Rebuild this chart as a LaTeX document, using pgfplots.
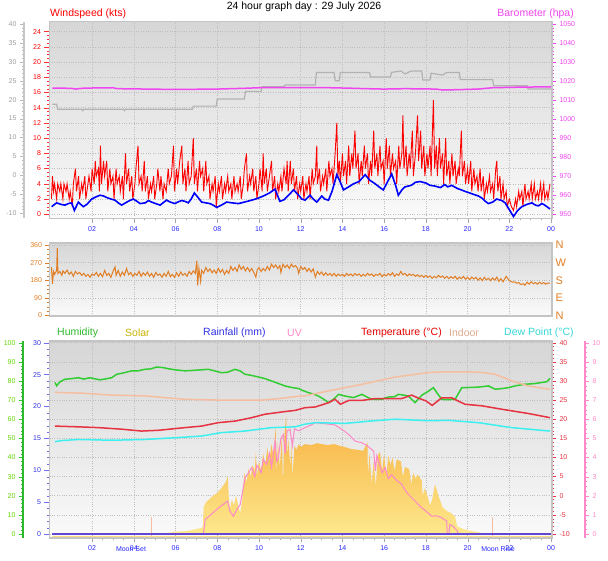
\documentclass[border=0pt]{standalone}
\usepackage{fontspec}
\setmainfont{Liberation Sans}
\usepackage{pgfplots}
\pgfplotsset{compat=1.18}
\definecolor{bgtop}{RGB}{214,214,214}
\definecolor{bgbot}{RGB}{250,250,250}
\definecolor{framec}{RGB}{196,196,196}
\definecolor{gridc}{RGB}{190,190,190}
\definecolor{tickblue}{RGB}{40,40,255}
\definecolor{baro}{RGB}{240,70,240}
\definecolor{grayline}{RGB}{178,178,178}
\definecolor{dirorange}{RGB}{225,125,35}
\definecolor{humgreen}{RGB}{50,205,50}
\definecolor{humlab}{RGB}{100,215,0}
\definecolor{indoor}{RGB}{245,190,160}
\definecolor{tempred}{RGB}{230,50,65}
\definecolor{dewcyan}{RGB}{60,240,240}
\definecolor{uvpink}{RGB}{255,136,200}
\definecolor{soltop}{RGB}{247,176,64}
\definecolor{solbot}{RGB}{253,232,140}
\definecolor{rainpurple}{RGB}{100,70,210}
\definecolor{rainlab}{RGB}{50,50,230}
\definecolor{solarlab}{RGB}{200,180,0}
\pgfplotsset{
  base/.style={scale only axis, anchor=south west, xmin=-0.043, xmax=24.046, width=502.5pt,
    /pgf/number format/assume math mode=true, /pgf/number format/1000 sep={},
    tick label style={font=\fontsize{7}{8}\selectfont},
    tick align=outside, major tick length=4pt, minor tick length=2pt},
  hid/.style={base, hide axis},
  sideax/.style={scale only axis, anchor=south west, width=1pt, xmin=0, xmax=1, hide x axis,
    /pgf/number format/assume math mode=true, /pgf/number format/1000 sep={},
    tick label style={font=\fontsize{7}{8}\selectfont},
    tick align=outside, major tick length=4pt, minor tick length=2pt},
  panel/.style={axis background/.style={shade, top color=bgtop, bottom color=bgbot},
    axis line style={draw=framec, line width=1.3pt},
    grid=major, grid style={dotted, gridc, line width=0.6pt}},
}
\begin{document}
\begin{tikzpicture}[x=1pt,y=1pt]
\useasboundingbox (0,0) rectangle (608,561);
\fill[white] (0,0) rectangle (608,561);

% ================= PANEL 1 =================
\begin{axis}[base, panel, at={(49.5pt,342.7pt)}, height=196.6pt, ymin=-0.53, ymax=25.3,
  xtick={2,4,...,24}, xticklabels={02,04,06,08,10,12,14,16,18,20,22,00},
  minor x tick num=3, ytick={0,2,...,24}, minor y tick num=3,
  tick pos=left, major tick length=5pt,
  xticklabel style={text=tickblue}, yticklabel style={text=red},
  x tick style={gray!70}, y tick style={red!80}]
\addplot[red, line width=0.9pt] coordinates {
(0.05,2)(0.1,5)(0.15,3)(0.2,4)(0.3,2)(0.35,4)(0.45,3)(0.5,4)(0.6,2)(0.65,4)(0.75,3)(0.8,4)(0.9,2)(0.95,3)(1.05,1)(1.1,4)(1.2,6)(1.25,3)(1.35,5)(1.4,2)(1.5,4)(1.55,3)(1.65,5)(1.7,2)(1.8,4)(1.85,5)(1.95,3)(2.0,6)(2.1,4)(2.15,7)(2.2,5)(2.3,6)(2.35,3)(2.4,9)(2.45,4)(2.55,7)(2.6,5)(2.7,7)(2.75,3)(2.85,6)(2.9,4)(3.0,5)(3.05,2)(3.15,6)(3.2,4)(3.3,5)(3.35,3)(3.45,5)(3.5,2)(3.6,8)(3.65,4)(3.75,6)(3.8,3)(3.9,5)(3.95,2)(4.05,4)(4.1,6)(4.2,9)(4.25,4)(4.35,5)(4.4,3)(4.5,7)(4.55,3)(4.65,5)(4.7,2)(4.8,4)(4.85,3)(4.95,5)(5.0,2)(5.1,4)(5.15,6)(5.25,3)(5.3,5)(5.4,2)(5.45,4)(5.55,3)(5.65,6)(5.7,4)(5.8,5)(5.9,9)(5.95,3)(6.05,6)(6.1,4)(6.2,7)(6.3,9)(6.35,4)(6.45,6)(6.5,3)(6.6,7)(6.65,4)(6.75,5)(6.85,10)(6.9,4)(7.0,6)(7.05,3)(7.15,7)(7.2,5)(7.3,6)(7.35,3)(7.45,7)(7.5,4)(7.6,5)(7.65,2)(7.75,4)(7.8,3)(7.9,5)(7.95,1)(8.05,4)(8.1,3)(8.2,5)(8.25,2)(8.35,4)(8.4,3)(8.5,5)(8.55,3)(8.65,4)(8.7,2)(8.8,5)(8.85,3)(8.95,4)(9.0,3)(9.1,5)(9.15,2)(9.25,4)(9.3,6)(9.4,8)(9.45,3)(9.55,5)(9.6,4)(9.7,6)(9.75,3)(9.85,5)(9.9,2)(10.0,4)(10.05,6)(10.15,3)(10.2,8)(10.25,4)(10.35,6)(10.4,3)(10.5,5)(10.6,7)(10.65,3)(10.75,5)(10.8,2)(10.9,4)(10.95,3)(11.05,5)(11.1,3)(11.2,6)(11.3,4)(11.35,7)(11.4,3)(11.5,7)(11.55,4)(11.65,6)(11.7,3)(11.8,5)(11.85,2)(11.95,4)(12.0,3)(12.1,5)(12.15,2)(12.25,4)(12.3,3)(12.4,5)(12.45,2)(12.55,6)(12.6,4)(12.7,5)(12.77,9)(12.8,4)(12.9,6)(12.95,3)(13.05,5)(13.1,4)(13.2,6)(13.25,3)(13.35,7)(13.4,5)(13.5,6)(13.55,4)(13.65,8)(13.73,12)(13.78,5)(13.85,7)(13.9,4)(14.0,8)(14.05,5)(14.15,7)(14.2,4)(14.3,9)(14.35,5)(14.45,8)(14.5,6)(14.6,11)(14.65,6)(14.75,8)(14.8,4)(14.9,7)(14.95,5)(15.05,9)(15.1,6)(15.2,8)(15.25,4)(15.35,7)(15.4,5)(15.5,11)(15.55,6)(15.65,8)(15.7,5)(15.8,9)(15.85,6)(15.95,7)(16.0,4)(16.1,10)(16.15,6)(16.25,9)(16.3,5)(16.4,8)(16.45,6)(16.55,7)(16.6,4)(16.7,9)(16.75,6)(16.85,8)(16.9,13)(16.95,6)(17.05,9)(17.1,5)(17.2,8)(17.25,6)(17.35,11)(17.4,5)(17.5,8)(17.6,13)(17.65,7)(17.75,11)(17.8,6)(17.9,9)(17.95,5)(18.05,8)(18.1,6)(18.2,9)(18.25,5)(18.36,15)(18.42,6)(18.5,9)(18.55,5)(18.65,10)(18.7,6)(18.8,8)(18.85,4)(18.95,10)(19.0,5)(19.1,7)(19.15,4)(19.25,8)(19.3,5)(19.4,7)(19.45,4)(19.55,6)(19.6,5)(19.7,11)(19.75,5)(19.85,7)(19.9,4)(20.0,6)(20.05,4)(20.15,7)(20.2,3)(20.3,6)(20.35,4)(20.45,5)(20.5,3)(20.6,6)(20.65,3)(20.75,5)(20.8,2)(20.9,4)(20.95,3)(21.05,5)(21.1,3)(21.2,4)(21.25,2)(21.35,6)(21.4,7)(21.45,3)(21.55,5)(21.6,2)(21.7,4)(21.75,2)(21.85,3)(21.9,1)(22.0,2)(22.1,1)(22.2,0.5)(22.3,2)(22.35,1)(22.45,3)(22.5,2)(22.6,3)(22.65,1)(22.75,4)(22.8,2)(22.9,3)(22.95,2)(23.05,4)(23.1,2)(23.2,4)(23.25,2)(23.35,3)(23.4,2)(23.5,4)(23.55,2)(23.65,4)(23.7,2)(23.8,3)(23.85,2)(23.95,4)};
\addplot[blue, line width=1.6pt] coordinates {
(0.06,1.0)(0.3,1.5)(0.5,1.3)(0.7,1.2)(0.85,1.4)(1.02,1.5)(1.15,0.5)(1.34,1.6)(1.45,1.3)(1.58,1.0)(1.75,1.3)(1.98,2.0)(2.2,2.3)(2.38,2.5)(2.55,2.4)(2.7,2.2)(2.9,2.0)(3.1,1.85)(3.25,1.5)(3.42,1.2)(3.6,1.5)(3.8,1.8)(3.98,2.0)(4.15,1.7)(4.3,1.4)(4.55,1.5)(4.7,1.8)(4.85,1.6)(5.05,1.4)(5.26,1.2)(5.4,1.5)(5.57,1.85)(5.75,1.6)(5.97,1.4)(6.1,1.6)(6.29,1.8)(6.45,1.7)(6.61,1.5)(6.75,2.0)(6.9,2.8)(7.05,2.3)(7.25,1.6)(7.45,1.5)(7.65,1.4)(7.8,1.2)(7.97,0.9)(8.2,1.2)(8.45,1.6)(8.7,1.5)(9.01,1.4)(9.3,1.6)(9.65,1.85)(9.95,2.1)(10.29,2.5)(10.5,2.8)(10.77,3.3)(10.9,2.4)(11.0,1.7)(11.2,1.9)(11.49,2.7)(11.65,3.2)(11.73,3.0)(11.9,2.5)(12.05,2.0)(12.21,1.85)(12.45,2.5)(12.6,2.0)(12.77,1.6)(13.01,2.4)(13.15,2.0)(13.33,1.85)(13.5,3.0)(13.73,5.2)(13.9,4.2)(14.05,3.2)(14.3,3.6)(14.53,4.0)(14.8,4.3)(15.09,5.2)(15.3,4.5)(15.57,4.0)(15.8,3.5)(15.96,3.2)(16.15,4.2)(16.36,5.3)(16.55,3.8)(16.68,2.5)(16.85,3.2)(17.0,3.6)(17.3,3.8)(17.5,4.2)(17.72,4.3)(18.0,4.1)(18.2,3.8)(18.44,3.7)(18.7,3.5)(18.9,3.9)(19.05,3.6)(19.24,3.8)(19.5,3.4)(19.7,3.2)(19.88,3.0)(20.1,2.8)(20.3,2.6)(20.52,2.4)(20.7,2.1)(20.85,1.7)(21.0,1.4)(21.2,1.6)(21.4,2.0)(21.64,1.8)(21.8,1.5)(22.0,0.6)(22.2,-0.3)(22.4,0.5)(22.6,1.0)(22.85,1.3)(23.08,1.5)(23.25,1.2)(23.4,1.1)(23.55,1.4)(23.64,1.3)(23.8,1.0)(23.95,0.7)};
\end{axis}
% gray series (own scale)
\begin{axis}[hid, at={(49.5pt,342.7pt)}, height=196.6pt, ymin=-11.32, ymax=40.6]
\addplot[grayline, line width=1.2pt] coordinates {
(0.1,18.8)(0.3,18.8)(0.35,17.5)(1.5,17.5)(1.55,17.1)(1.6,17.5)(3.5,17.5)(3.55,17.1)(3.6,17.5)(6.8,17.5)(6.85,18.3)(7.95,18.3)(8.0,20.2)(9.3,20.2)(9.35,22.2)(10.1,22.2)(10.15,23.4)(11.2,23.4)(11.25,23.9)(12.7,23.9)(12.75,27.2)(13.6,27.2)(13.65,25.0)(13.85,25.0)(13.9,27.2)(15.3,27.2)(15.35,26.0)(16.3,26.0)(16.35,27.2)(16.8,27.6)(17.0,26.8)(17.3,27.6)(17.8,27.6)(17.85,25.2)(18.2,25.2)(18.25,27.0)(18.8,26.5)(19.0,27.2)(19.6,27.2)(19.65,25.3)(21.2,25.3)(21.25,23.7)(22.85,23.7)(22.9,22.8)(24.0,22.8)};
\end{axis}
\begin{axis}[sideax, at={(24pt,342.7pt)}, height=196.6pt, ymin=-11.32, ymax=40.6,
  axis y line*=left, ytick={-10,-5,...,40}, yticklabels={-10,-5,0,5,10,15,20,25,30,35,40},
  minor y tick num=4, y axis line style={draw=gray!45, line width=1.6pt},
  y tick style={gray!55}, yticklabel style={text=gray!75}]
\end{axis}
% barometer
\begin{axis}[base, at={(49.5pt,342.7pt)}, height=196.6pt, ymin=947.9, ymax=1051.2,
  hide x axis, axis y line*=right, ytick={950,960,...,1050}, minor y tick num=4,
  y axis line style={draw=framec, line width=1.3pt},
  y tick style={baro}, yticklabel style={text=baro}]
\addplot[baro, line width=1.5pt] coordinates {
(0.1,1016.3)(1.0,1016.2)(1.2,1015.8)(1.6,1016.3)(3.0,1016.5)(3.2,1016.0)(6.0,1015.6)(8.0,1015.8)(9.3,1016.2)(10.0,1016.5)(12.0,1016.6)(13.0,1016.6)(14.2,1016.3)(15.5,1015.9)(16.0,1015.8)(17.0,1016.0)(18.5,1015.8)(18.8,1015.3)(19.6,1015.5)(20.5,1015.8)(21.2,1016.5)(22.5,1016.8)(24.0,1017.0)};
\end{axis}

% ================= PANEL 2 =================
\begin{axis}[base, panel, at={(49.5pt,245pt)}, height=73pt, ymin=-2.55, ymax=370.2,
  xtick={2,4,...,24}, xticklabels={}, x tick style={draw=none},
  ytick={0,90,180,270,360}, minor y tick num=3, ytick pos=left,
  yticklabel style={text=dirorange}, y tick style={dirorange}]
\addplot[dirorange, line width=1pt] coordinates {
(0.05,247)(0.1,162)(0.15,225)(0.2,210)(0.3,230)(0.33,344)(0.36,215)(0.45,225)(0.55,205)(0.6,228)(0.7,215)(0.8,232)(0.9,210)(1.0,222)(1.1,200)(1.2,225)(1.3,212)(1.4,220)(1.5,205)(1.6,215)(1.7,200)(1.8,210)(1.9,195)(2.0,212)(2.1,205)(2.2,220)(2.3,200)(2.4,215)(2.5,198)(2.6,230)(2.7,205)(2.8,215)(2.9,195)(3.0,225)(3.1,248)(3.15,205)(3.25,230)(3.35,200)(3.45,222)(3.55,205)(3.65,240)(3.75,208)(3.85,220)(3.95,200)(4.05,215)(4.15,205)(4.25,225)(4.35,200)(4.45,218)(4.55,205)(4.65,222)(4.75,200)(4.85,215)(4.95,195)(5.05,220)(5.15,205)(5.25,212)(5.35,195)(5.45,215)(5.55,200)(5.65,225)(5.75,198)(5.85,210)(5.95,195)(6.05,218)(6.15,200)(6.25,222)(6.35,205)(6.45,215)(6.55,200)(6.65,225)(6.75,210)(6.85,228)(6.95,215)(7.02,280)(7.06,154)(7.12,240)(7.2,175)(7.25,230)(7.35,215)(7.45,245)(7.55,225)(7.65,238)(7.75,218)(7.85,232)(7.95,215)(8.05,240)(8.15,220)(8.25,235)(8.35,210)(8.45,230)(8.55,215)(8.65,250)(8.75,230)(8.85,245)(8.95,225)(9.05,258)(9.15,235)(9.25,250)(9.35,228)(9.45,245)(9.55,225)(9.65,240)(9.75,220)(9.85,196)(9.92,235)(10.0,245)(10.1,225)(10.2,240)(10.3,228)(10.4,250)(10.5,232)(10.6,262)(10.7,245)(10.8,258)(10.9,240)(11.0,255)(11.05,220)(11.15,262)(11.25,245)(11.35,258)(11.45,240)(11.55,262)(11.65,248)(11.75,255)(11.85,240)(11.9,215)(12.0,250)(12.1,235)(12.2,245)(12.3,225)(12.4,240)(12.5,222)(12.6,238)(12.7,196)(12.8,225)(12.9,210)(13.0,222)(13.1,205)(13.2,218)(13.3,205)(13.4,215)(13.5,202)(13.6,215)(13.7,200)(13.8,212)(13.9,203)(14.0,210)(14.1,200)(14.2,215)(14.3,204)(14.4,212)(14.5,202)(14.6,214)(14.7,205)(14.8,212)(14.9,200)(15.0,210)(15.1,202)(15.2,215)(15.3,205)(15.4,212)(15.5,200)(15.6,210)(15.7,205)(15.8,215)(15.9,198)(16.0,210)(16.1,202)(16.2,214)(16.3,205)(16.4,218)(16.5,200)(16.6,212)(16.7,205)(16.8,225)(16.9,208)(17.0,215)(17.1,202)(17.2,212)(17.3,205)(17.4,210)(17.5,200)(17.6,208)(17.7,198)(17.8,205)(17.9,195)(18.0,205)(18.1,195)(18.2,202)(18.3,190)(18.4,200)(18.5,192)(18.6,205)(18.7,195)(18.8,202)(18.9,190)(19.0,200)(19.1,188)(19.2,198)(19.3,190)(19.4,200)(19.5,185)(19.6,196)(19.7,188)(19.8,200)(19.9,185)(20.0,195)(20.1,183)(20.2,196)(20.3,186)(20.4,195)(20.5,180)(20.6,192)(20.7,178)(20.8,195)(20.9,182)(21.0,190)(21.1,178)(21.2,192)(21.3,180)(21.4,196)(21.5,175)(21.6,188)(21.7,172)(21.85,200)(21.95,185)(22.05,175)(22.15,170)(22.25,172)(22.35,165)(22.45,168)(22.55,158)(22.65,162)(22.75,155)(22.85,170)(22.95,160)(23.05,172)(23.15,162)(23.25,168)(23.35,160)(23.45,170)(23.55,162)(23.65,168)(23.75,160)(23.85,166)(23.95,165)};
\end{axis}
\begin{axis}[base, at={(49.5pt,245pt)}, height=73pt, ymin=-2.55, ymax=370.2,
  hide x axis, axis y line*=right, y axis line style={draw=framec, line width=1.3pt},
  ytick={0,90,180,270,360}, yticklabels={N,E,S,W,N}, major tick length=0pt,
  yticklabel style={text=dirorange, font=\fontsize{11}{12}\selectfont}]
\end{axis}

% ================= PANEL 3 =================
\begin{axis}[base, panel, at={(49.5pt,23pt)}, height=197pt, ymin=-2.09, ymax=100.9,
  xtick={2,4,...,24}, xticklabels={02,04,06,08,10,12,14,16,18,20,22,00},
  minor x tick num=3, xtick pos=left, x tick style={gray!70},
  xticklabel style={text=tickblue},
  ytick={0,10,...,100}, yticklabels={}, y tick style={draw=none}]
\end{axis}
% solar
\begin{axis}[hid, at={(49.5pt,23pt)}, height=197pt, ymin=-20.9, ymax=1009]
\addplot[draw=none, top color=soltop, bottom color=solbot] coordinates {
(5.5,0)(5.6,5)(6.0,12)(6.5,15)(7.0,25)(7.3,35)(7.35,140)(7.45,165)(7.6,180)(7.8,200)(8.0,215)(8.2,240)(8.4,270)(8.5,300)(8.55,200)(8.6,130)(8.7,180)(8.8,150)(8.9,200)(9.0,150)(9.1,110)(9.2,180)(9.3,320)(9.4,270)(9.5,340)(9.6,300)(9.7,360)(9.8,330)(9.85,430)(9.9,300)(10.0,380)(10.1,330)(10.2,420)(10.3,360)(10.4,450)(10.5,380)(10.6,470)(10.7,400)(10.8,560)(10.85,300)(10.9,480)(11.0,350)(11.1,520)(11.15,250)(11.2,480)(11.3,620)(11.35,400)(11.4,500)(11.5,350)(11.55,470)(11.6,300)(11.7,460)(11.8,440)(11.9,470)(12.0,455)(12.2,470)(12.5,465)(12.8,475)(13.0,470)(13.3,465)(13.6,470)(13.9,460)(14.1,455)(14.4,445)(14.7,440)(15.0,435)(15.2,480)(15.22,300)(15.3,420)(15.4,260)(15.5,380)(15.6,250)(15.7,410)(15.8,430)(15.9,330)(16.0,420)(16.1,300)(16.2,410)(16.3,360)(16.4,400)(16.5,330)(16.6,390)(16.8,380)(16.9,300)(17.0,350)(17.2,340)(17.3,260)(17.4,320)(17.5,290)(17.6,310)(17.8,280)(17.85,200)(17.95,240)(18.1,190)(18.2,150)(18.3,180)(18.44,260)(18.6,200)(18.8,140)(19.0,120)(19.2,110)(19.4,90)(19.5,40)(19.8,25)(20.2,15)(20.6,8)(20.8,0)} \closedcycle;
\addplot[solbot!80!soltop, line width=1.2pt] coordinates {(0.1,-12)(24,-12)};
\end{axis}
% UV
\begin{axis}[hid, at={(49.5pt,23pt)}, height=197pt, ymin=-0.209, ymax=10.09]
\addplot[uvpink, line width=1pt] coordinates {
(7.33,0)(7.37,0.32)(7.42,0.76)(7.7,1.02)(8.1,1.4)(8.5,1.72)(8.6,1.2)(8.77,0.93)(8.95,1.3)(9.1,1.54)(9.33,2.94)(9.5,3.2)(9.65,3.47)(9.8,3.0)(9.9,3.6)(10.1,3.2)(10.2,3.9)(10.37,3.64)(10.5,4.2)(10.6,3.5)(10.77,4.86)(10.85,3.8)(10.93,4.0)(11.05,5.0)(11.17,5.2)(11.25,4.2)(11.35,5.4)(11.49,5.47)(11.6,4.6)(11.7,5.5)(11.9,5.4)(12.2,5.56)(12.5,5.7)(12.7,5.82)(13.0,5.78)(13.2,5.76)(13.65,5.7)(14.13,5.35)(14.4,5.1)(14.6,4.86)(14.93,4.77)(15.2,4.6)(15.5,4.33)(15.58,3.3)(15.65,4.1)(15.73,3.8)(15.9,3.2)(16.05,3.47)(16.2,2.9)(16.36,3.1)(16.6,2.8)(16.84,2.6)(17.0,2.3)(17.16,2.07)(17.5,1.7)(17.8,1.37)(18.0,1.2)(18.28,0.93)(18.5,0.95)(18.76,0.85)(19.0,0.67)(19.02,0)(19.1,0)(19.15,0.5)(19.3,0.4)(19.5,0.17)(19.55,0)};
\end{axis}
% humidity
\begin{axis}[hid, at={(49.5pt,23pt)}, height=197pt, ymin=-2.09, ymax=100.9]
\addplot[humgreen, line width=1.5pt] coordinates {
(0.22,79.2)(0.3,77.5)(0.45,79.5)(0.7,80.9)(1.0,81.2)(1.34,81.7)(1.6,81.0)(1.9,81.7)(2.1,81.2)(2.38,80.6)(2.6,81.0)(2.94,81.7)(3.18,83.5)(3.5,84.2)(3.9,85.3)(4.2,85.3)(4.53,86.1)(4.8,86.3)(5.1,87.3)(5.4,87.0)(5.65,86.4)(6.0,85.8)(6.45,85.3)(6.8,85.5)(7.2,85.8)(7.57,86.1)(7.9,85.2)(8.2,84.3)(8.5,84.6)(8.85,86.1)(9.1,85.2)(9.33,83.5)(9.6,83.0)(9.97,82.1)(10.3,81.2)(10.6,80.0)(10.9,78.8)(11.25,77.4)(11.6,76.5)(11.89,76.1)(12.1,75.0)(12.37,73.9)(12.6,73.2)(12.85,72.1)(13.1,70.5)(13.33,68.7)(13.57,70.4)(13.81,73.0)(14.13,72.1)(14.53,71.3)(14.93,73.0)(15.2,71.5)(15.4,70.4)(15.88,70.4)(16.2,71.6)(16.5,71.8)(16.68,73.0)(17.0,72.5)(17.16,72.1)(17.48,68.7)(17.8,72.5)(18.1,74.5)(18.36,76.5)(18.55,73.5)(18.76,70.4)(19.0,70.2)(19.4,70.4)(19.72,76.5)(20.1,76.6)(20.52,76.8)(21.0,77.4)(21.32,75.7)(21.64,76.0)(21.96,76.5)(22.3,77.5)(22.76,78.3)(23.2,78.6)(23.55,79.2)(23.8,79.6)(23.95,81.4)};
\end{axis}
% temperatures
\begin{axis}[base, at={(49.5pt,23pt)}, height=197pt, ymin=-11.05, ymax=40.44,
  hide x axis, axis y line*=right, y axis line style={draw=framec, line width=1.3pt},
  ytick={-10,-5,...,40}, yticklabels={-10,-5,0,5,10,15,20,25,30,35,40},
  minor y tick num=4, y tick style={tempred}, yticklabel style={text=tempred}]
\addplot[indoor, line width=1.5pt] coordinates {
(0.22,27.0)(1.5,26.8)(2.94,26.3)(4.5,26.1)(6.45,25.2)(8.05,25.0)(10.13,25.0)(11.0,25.4)(11.73,25.9)(12.2,26.1)(13.33,27.4)(14.93,29.1)(16.52,31.0)(18.12,32.2)(18.92,32.4)(20.04,32.4)(20.7,32.2)(21.32,31.75)(22.12,30.0)(22.9,28.7)(23.95,27.8)};
\addplot[dewcyan, line width=1.5pt] coordinates {
(0.22,14.1)(0.5,14.4)(1.34,14.7)(2.94,14.5)(4.53,14.7)(6.13,15.2)(7.25,15.6)(8.2,16.5)(9.33,16.9)(10.6,17.8)(11.73,18.0)(12.2,18.7)(12.7,19.1)(14.13,18.9)(15.3,19.5)(16.52,20.0)(18.12,19.6)(19.08,19.7)(20.52,19.1)(22.1,17.8)(23.95,16.9)};
\addplot[tempred, line width=1.5pt] coordinates {
(0.22,18.2)(1.34,18.0)(2.3,17.8)(3.4,17.4)(4.37,16.9)(5.18,17.1)(6.45,17.8)(7.25,18.2)(8.05,19.1)(8.85,19.5)(9.65,20.4)(10.29,21.3)(11.25,22.0)(11.73,22.3)(12.2,23.0)(12.7,23.2)(13.33,24.3)(13.65,25.2)(13.9,23.9)(14.3,24.9)(14.93,24.9)(15.57,25.4)(16.36,25.4)(16.84,25.4)(17.32,26.3)(17.64,25.5)(18.0,24.8)(18.3,23.6)(18.76,25.6)(19.24,25.6)(19.6,24.6)(19.88,23.9)(20.68,23.5)(21.64,22.6)(22.9,21.5)(23.95,20.4)};
\end{axis}
% rainfall
\begin{axis}[base, at={(49.5pt,23pt)}, height=197pt, ymin=-0.627, ymax=30.27,
  hide x axis, axis y line*=left, y axis line style={draw=framec, line width=1.3pt},
  ytick={0,5,...,30}, minor y tick num=4, major tick length=5pt,
  y tick style={rainlab!70}, yticklabel style={text=rainlab}]
\addplot[indoor, line width=1pt] coordinates {(4.83,-0.3)(4.83,2.7)};
\addplot[indoor, line width=1pt] coordinates {(21.17,-0.3)(21.17,2.7)};
\addplot[rainpurple, line width=1.8pt] coordinates {(0.1,0)(24,0)};
\end{axis}
\begin{axis}[sideax, at={(23pt,23pt)}, height=197pt, ymin=-2.09, ymax=100.9,
  axis y line*=left, ytick={0,10,...,100}, minor y tick num=4,
  y axis line style={draw=humgreen!90!black, line width=1.8pt},
  y tick style={humgreen}, yticklabel style={text=humlab}]
\end{axis}
\begin{axis}[sideax, at={(584pt,23pt)}, height=197pt, ymin=-0.209, ymax=10.09,
  axis y line*=right, ytick={0,1,...,10}, minor y tick num=3,
  y axis line style={draw=uvpink, line width=1.8pt},
  y tick style={uvpink}, yticklabel style={text=uvpink}]
\end{axis}

% ================= TEXTS =================
\node[font=\fontsize{10.5}{12}\selectfont] at (304,554) {24 hour graph day : 29 July 2026};
\node[anchor=west, text=red, font=\fontsize{10.5}{12}\selectfont, inner sep=0pt] at (50,547) {Windspeed (kts)};
\node[anchor=east, text=baro, font=\fontsize{10.5}{12}\selectfont, inner sep=0pt] at (574,547) {Barometer (hpa)};
\begin{scope}[every node/.style={anchor=west, inner sep=0pt, font=\fontsize{10.5}{12}\selectfont}]
\node[text=humgreen!90!black] at (57,228) {Humidity};
\node[text=solarlab] at (125,228) {Solar};
\node[text=rainlab] at (203,228) {Rainfall (mm)};
\node[text=uvpink] at (287,228) {UV};
\node[text=red!90!black] at (361,228) {Temperature (°C)};
\node[text=indoor!90!black] at (449,228) {Indoor};
\node[text=dewcyan!90!black] at (504,228) {Dew Point (°C)};
\end{scope}
\node[text=tickblue, font=\fontsize{7}{8}\selectfont] at (131,12) {Moon Set};
\node[text=tickblue, font=\fontsize{7}{8}\selectfont] at (498,12) {Moon Rise};
\end{tikzpicture}
\end{document}
